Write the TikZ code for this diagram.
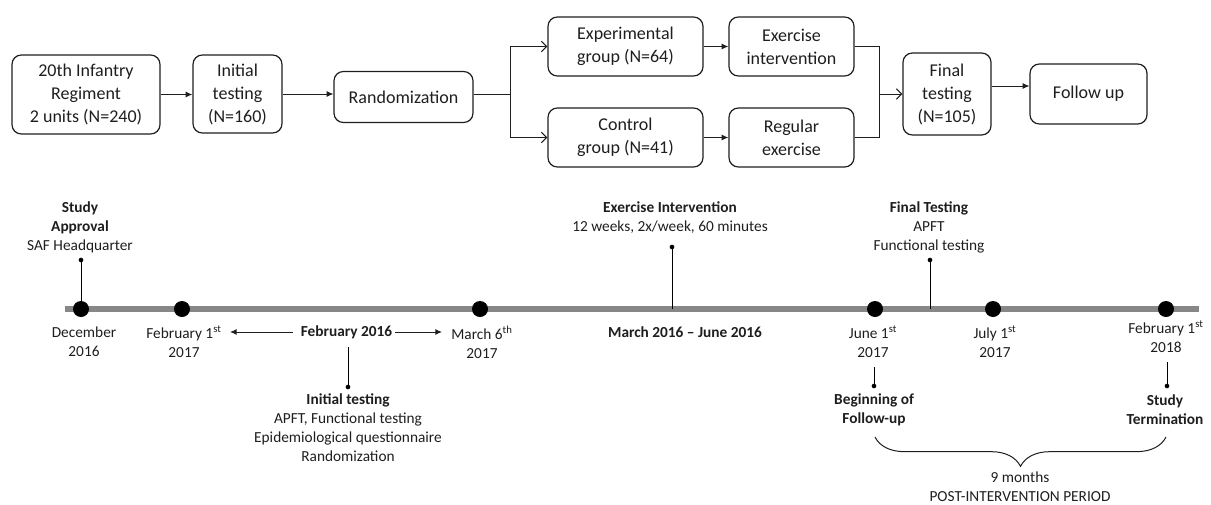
\documentclass[tikz,border=0pt]{standalone}
\usepackage{fontspec}
\setmainfont{Carlito}
\usetikzlibrary{arrows.meta,decorations.pathreplacing,calc}
\definecolor{txt}{RGB}{30,30,30}
\definecolor{tline}{RGB}{135,135,135}
\begin{document}
\begin{tikzpicture}[x=0.75pt,y=-0.75pt,
  box/.style={draw=txt, line width=0.9pt, rounded corners=7pt, align=center, text=txt,
    font=\fontsize{13.5}{17.25}\selectfont, inner sep=0pt},
  conn/.style={draw=txt, line width=0.75pt},
  filledtip/.style={conn, -{Latex[length=5pt,width=4.5pt]}},
  opentip/.style={conn, -{Straight Barb[length=4pt,width=8pt,line width=0.75pt]}},
  lbl/.style={align=center, text=txt, inner sep=0pt, font=\fontsize{11.5}{14.25}\selectfont},
  blbl/.style={lbl, font=\fontsize{11.5}{14.25}\selectfont\bfseries},
  bigdot/.style={circle, fill=black, inner sep=0pt, minimum size=12pt},
  smalldot/.style={circle, fill=black, inner sep=0pt, minimum size=3.5pt},
  stem/.style={draw=black, line width=0.75pt}]
\useasboundingbox (0,0) rectangle (1211,504);

% ---------- flow chart ----------
\node[box, minimum width=111pt, minimum height=59.25pt] (b1) at (86,94.5) {20th Infantry\\Regiment\\2 units (N=240)};
\node[box, minimum width=66.75pt, minimum height=58.5pt] (b2) at (237.5,94) {Initial\\testing\\(N=160)};
\node[box, minimum width=104.25pt, minimum height=38.25pt] (b3) at (403.5,97) {Randomization};
\node[box, minimum width=116.25pt, minimum height=44.25pt] (exp) at (625.5,46.5) {Experimental\\group (N=64)};
\node[box, minimum width=93.75pt, minimum height=44.25pt] (exer) at (791.5,46.5) {Exercise\\intervention};
\node[box, minimum width=116.25pt, minimum height=44.25pt] (ctl) at (625.5,137.5) {Control\\group (N=41)};
\node[box, minimum width=93.75pt, minimum height=44.25pt] (reg) at (791.5,137.5) {Regular\\exercise};
\node[box, minimum width=66pt, minimum height=61.5pt] (fin) at (947,94) {Final\\testing\\(N=105)};
\node[box, minimum width=87.75pt, minimum height=45pt] (fu) at (1088.5,94) {Follow up};

\draw[filledtip] (b1.east) -- (b1.east -| b2.west);
\draw[filledtip] (b2.east) -- (b2.east -| b3.west);
\coordinate (br) at (510,94);
\draw[conn] (b2.east -| b3.east) -- (br);
\draw[opentip] (br) |- (exp.west);
\draw[opentip] (br) |- (ctl.west);
\draw[filledtip] (exp) -- (exer);
\draw[filledtip] (ctl) -- (reg);
\coordinate (mg) at (879,94);
\draw[conn] (exer.east) -| (mg);
\draw[conn] (reg.east) -| (mg);
\draw[opentip] (mg) -- (mg -| fin.west);
\draw[filledtip] ([yshift=6pt]fin.east) -- ([yshift=6pt]fin.east -| fu.west);

% ---------- timeline ----------
\coordinate (tl0) at (65,309);
\coordinate (tl1) at (1199,309);
\draw[tline, line width=4.5pt] (tl0) -- (tl1);

\node[bigdot] (d1) at (81,309) {};
\node[bigdot] (d2) at (182,309) {};
\node[bigdot] (d3) at (480,309) {};
\node[bigdot] (d4) at (875,309) {};
\node[bigdot] (d5) at (993,309) {};
\node[bigdot] (d6) at (1166,309) {};
\coordinate (ex) at (672,309);
\coordinate (ft) at (930,309);

% stems above
\node[smalldot] (s1) at (81,260) {};
\draw[stem] (d1.center) -- (s1.center);
\node[smalldot] (s2) at (672,247) {};
\draw[stem] (ex) -- (s2.center);
\node[smalldot] (s3) at (930,260) {};
\draw[stem] (ft) -- (s3.center);

\node[lbl] (ta) at (80,227) {\textbf{Study}\\\textbf{Approval}\\SAF Headquarter};
\node[lbl] (te) at (670,217.5) {\textbf{Exercise Intervention}\\12 weeks, 2x/week, 60 minutes};
\node[lbl] (tf) at (929,227) {\textbf{Final Testing}\\APFT\\Functional testing};

% labels below
\node[lbl] (l1) at (84,342) {December\\2016};
\node[lbl] (l2) at (184,342) {February 1\textsuperscript{st}\\2017};
\node[blbl] (l3) at (346.5,332) {February 2016};
\node[lbl] (l4) at (482,342) {March 6\textsuperscript{th}\\2017};
\node[blbl] (l5) at (685,332) {March 2016 -- June 2016};
\node[lbl] (l6) at (873,342) {June 1\textsuperscript{st}\\2017};
\node[lbl] (l7) at (995,342) {July 1\textsuperscript{st}\\2017};
\node[lbl] (l8) at (1166,337) {February 1\textsuperscript{st}\\2018};

\coordinate (al) at (230,332);
\coordinate (ar) at (442,332);
\draw[filledtip] (l3.west) ++(-8,0) -- (al);
\draw[filledtip] (l3.east) ++(3,0) -- (ar);

% stems below
\coordinate (u1) at (348,347);
\node[smalldot] (p1) at (348,387) {};
\draw[stem] (u1) -- (p1.center);
\coordinate (u2) at (874,367);
\node[smalldot] (p2) at (874,386) {};
\draw[stem] (u2) -- (p2.center);
\coordinate (u3) at (1167,362);
\node[smalldot] (p3) at (1167,386) {};
\draw[stem] (u3) -- (p3.center);

\node[lbl] (li) at (348,427.5) {\textbf{Initial testing}\\APFT, Functional testing\\Epidemiological questionnaire\\Randomization};
\node[blbl] (lb) at (874,409.5) {Beginning of\\Follow-up};
\node[blbl] (lt) at (1165,409.5) {Study\\Termination};

% brace
\coordinate (bra) at (1166,437);
\coordinate (brb) at (875,437);
\draw[conn, decorate, decoration={brace, amplitude=22pt}] (bra) -- (brb);
\node[lbl] (lp) at (1020,486.5) {9 months\\POST-INTERVENTION PERIOD};
\end{tikzpicture}
\end{document}
